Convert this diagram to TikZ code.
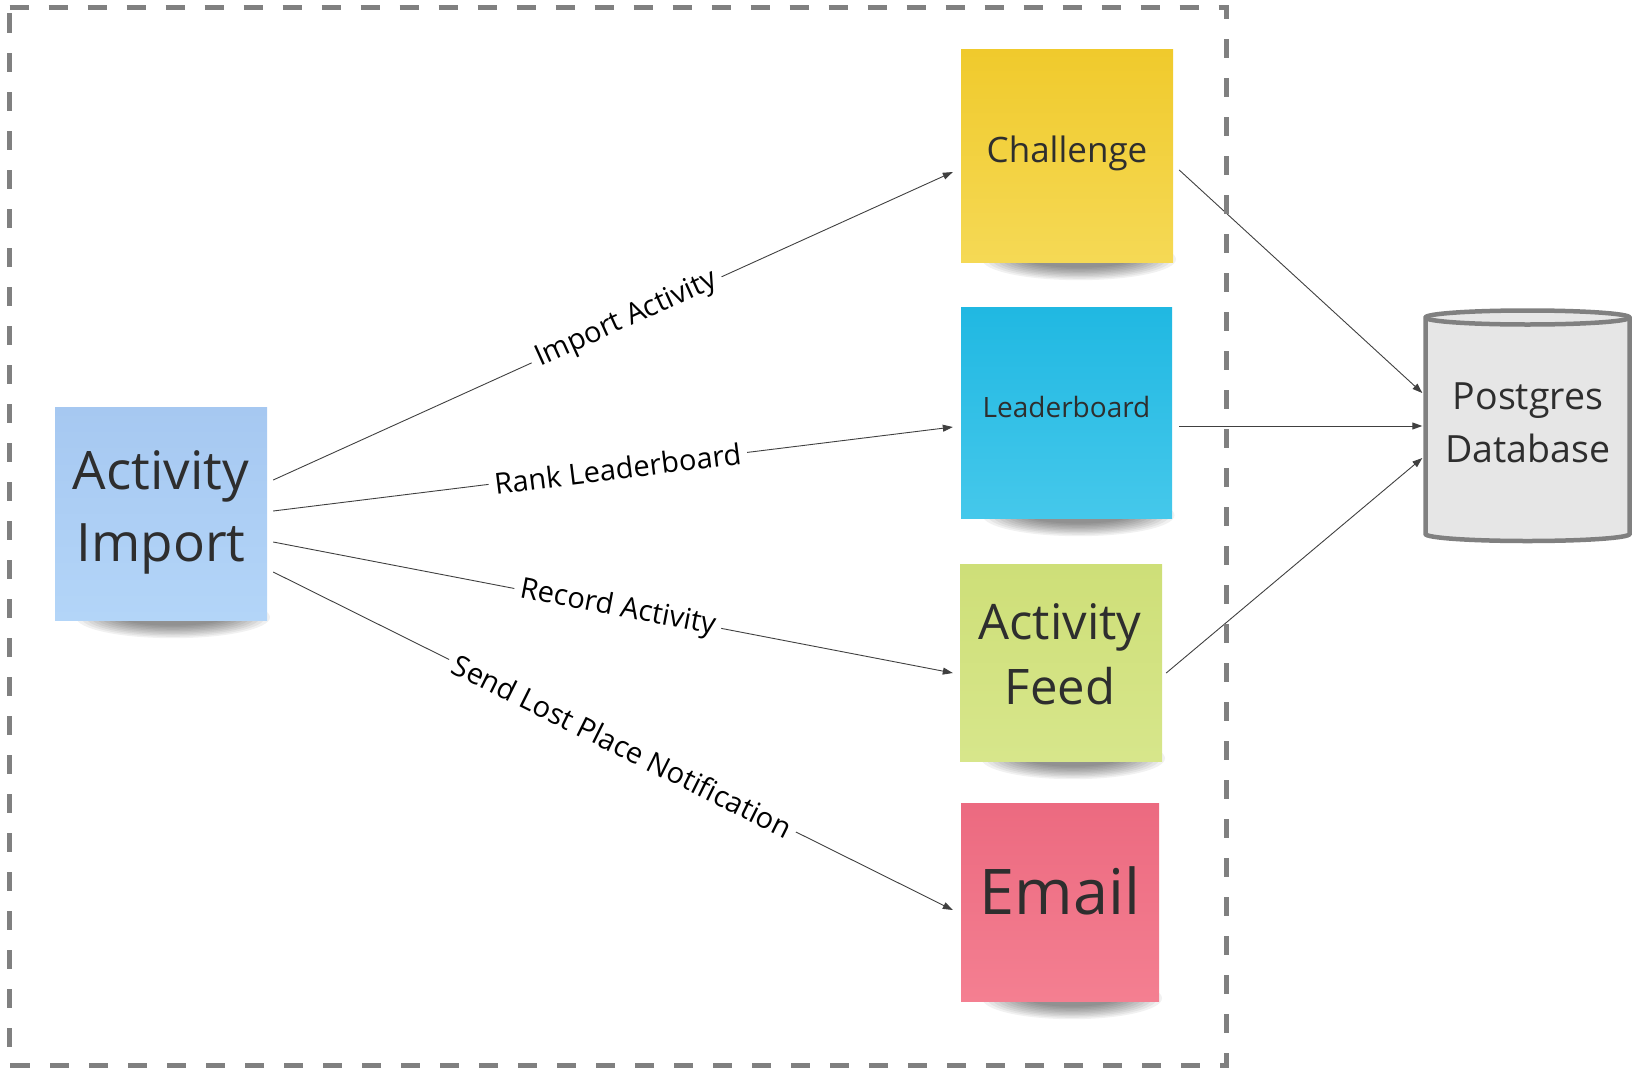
\documentclass[tikz,border=0pt]{standalone}
\usepackage{fontspec}
\setmainfont{Open Sans}
\usetikzlibrary{calc,arrows.meta}
\pgfdeclarelayer{bg}
\pgfsetlayers{bg,main}
\definecolor{txt}{HTML}{2E2E2E}
\definecolor{bordergray}{HTML}{808080}
\definecolor{dbfill}{HTML}{E6E6E6}
\definecolor{aiT}{HTML}{A6C8F1}
\definecolor{aiB}{HTML}{B3D5F8}
\definecolor{chT}{HTML}{F0CA2C}
\definecolor{chB}{HTML}{F5D955}
\definecolor{ldT}{HTML}{20B8E2}
\definecolor{ldB}{HTML}{45C8EB}
\definecolor{fdT}{HTML}{CEDF78}
\definecolor{fdB}{HTML}{D7E68B}
\definecolor{emT}{HTML}{EC6A80}
\definecolor{emB}{HTML}{F47F91}
\tikzset{
  notebox/.style={draw=none, inner sep=0pt, shading angle=0},
  notetext/.style={text=txt, align=center, inner sep=0pt},
  conn/.style={draw=black!75, line width=0.9pt, -{Triangle[length=10pt,width=7pt]}},
  elabel/.style={sloped, fill=white, text=black, inner sep=6pt, font=\fontsize{29}{34}\selectfont},
  border/.style={draw=bordergray, line width=5pt, dash pattern=on 19pt off 20pt},
  dbline/.style={draw=bordergray, line width=4.5pt, fill=dbfill},
  shadowlayer/.style={fill=black, opacity=0.055}
}
\begin{document}
\begin{tikzpicture}[x=1pt,y=-1pt]
\useasboundingbox (0,0) rectangle (1637,1068);

% sticky notes
\node[notebox, minimum width=212pt, minimum height=213pt, top color=aiT, bottom color=aiB] (ai) at (161,513.5) {};
\node[notebox, minimum width=212pt, minimum height=213pt, top color=chT, bottom color=chB] (chal) at (1067,155.5) {};
\node[notebox, minimum width=211pt, minimum height=211pt, top color=ldT, bottom color=ldB] (lead) at (1066.5,412.5) {};
\node[notebox, minimum width=202pt, minimum height=197pt, top color=fdT, bottom color=fdB] (feed) at (1061,662.5) {};
\node[notebox, minimum width=198pt, minimum height=198pt, top color=emT, bottom color=emB] (email) at (1060,902) {};

% soft shadows under the notes
\begin{pgfonlayer}{bg}
\foreach \n/\rx in {ai/97,chal/97,lead/96,feed/92,email/90}{
  \foreach \k in {0,...,9}{
    \fill[shadowlayer] ($(\n.south)+(12,-3)$) ellipse [x radius={(\rx-5*\k)*1pt}, y radius={(21-1.4*\k)*1pt}];
  }
}
\end{pgfonlayer}

% texts
\node[notetext, font=\fontsize{53}{72}\selectfont] (aiT) at (161,512) {Activity\\Import};
\node[notetext, font=\fontsize{35}{42}\selectfont] (chalT) at (1067,153) {Challenge};
\node[notetext, font=\fontsize{28}{34}\selectfont] (leadT) at (1066.5,406.5) {Leaderboard};
\node[notetext, font=\fontsize{49}{65}\selectfont] (feedT) at (1060,654) {Activity\\Feed};
\node[notetext, font=\fontsize{63}{75}\selectfont] (emailT) at (1060,891) {Email};

% database
\filldraw[dbline] (1425.5,317.5) -- (1425.5,534)
  arc[start angle=180, end angle=360, x radius=102pt, y radius=7pt]
  -- (1629.5,317.5)
  arc[start angle=0, end angle=180, x radius=102pt, y radius=7pt] -- cycle;
\draw[draw=bordergray, line width=4.5pt] (1425.5,317.5)
  arc[start angle=180, end angle=360, x radius=102pt, y radius=7pt];
\node[inner sep=0pt, minimum width=204pt, minimum height=217pt] (db) at (1527.5,426) {};
\node[notetext, font=\fontsize{37.5}{53}\selectfont] (dbT) at (1528,423) {Postgres\\Database};

% connectors from Activity Import
\draw[conn] ($(ai.east)+(6,-33.5)$) -- node[elabel, pos=0.52] {Import Activity} ($(chal.west)+(-8,16.5)$);
\draw[conn] ($(ai.east)+(6,-2.5)$) -- node[elabel, pos=0.507] {Rank Leaderboard} ($(lead.west)+(-8,14.5)$);
\draw[conn] ($(ai.east)+(6,28.5)$) -- node[elabel, pos=0.507] {Record Activity} ($(feed.west)+(-7,10.5)$);
\draw[conn] ($(ai.east)+(6,58.5)$) -- node[elabel, pos=0.514] {Send Lost Place Notification} ($(email.west)+(-8,8)$);

% connectors to database
\draw[conn] ($(chal.east)+(6,14.5)$) -- ($(db.west)+(-3,-33)$);
\draw[conn] ($(lead.east)+(7,13.5)$) -- ($(db.west)+(-3,0)$);
\draw[conn] ($(feed.east)+(4,10.5)$) -- ($(db.west)+(-3,32)$);

% boundary
\draw[border] (9.5,7.5) -- (1226,7.5) -- (1226,1065.5) -- (9.5,1065.5) -- cycle;
\end{tikzpicture}
\end{document}
